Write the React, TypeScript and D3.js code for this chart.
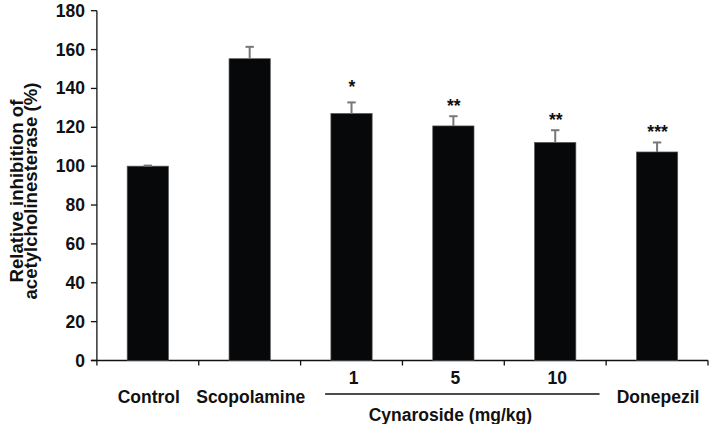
import React from "react";
import * as d3 from "d3";

const categories = ["Control", "Scopolamine", "1", "5", "10", "Donepezil"];
const values = [100, 155.3, 127.1, 120.7, 112.2, 107.3];
const errors = [0.3, 6.1, 5.7, 5, 6.3, 4.9];
const stars = ["", "", "*", "**", "**", "***"];
const yTicks = [0, 20, 40, 60, 80, 100, 120, 140, 160, 180];
const groupLabel = "Cynaroside (mg/kg)";
const doseCats = ["1", "5", "10"];
const yLabelLines = ["Relative inhibition of", "acetylcholinesterase (%)"];

const W = 709;
const H = 424;
const left = 96.9;
const right = 708;
const top = 10.7;
const bottom = 360.5;
const font = "'Liberation Sans', Arial, sans-serif";
const fs = 17.5;
const ink = "#111";

export default function App() {
  const x = d3.scaleBand<string>().domain(categories).range([left, right]).paddingInner(0).paddingOuter(0);
  const y = d3.scaleLinear().domain([0, 180]).range([bottom, top]);
  const bw = x.bandwidth() * 0.405;
  const boundaries = d3.range(categories.length + 1).map((i) => left + i * x.bandwidth());
  const doseStart = x(doseCats[0])!;
  const doseEnd = x(doseCats[doseCats.length - 1])! + x.bandwidth();

  return (
    <svg width={W} height={H} style={{ position: "absolute", left: 0, top: 0, background: "#fff" }}>
      {/* y axis */}
      <line x1={left} x2={left} y1={y(180)} y2={bottom} stroke={ink} strokeWidth={1.3} />
      {yTicks.map((t) => (
        <g key={t}>
          <line x1={left - 6} x2={left} y1={y(t)} y2={y(t)} stroke={ink} strokeWidth={1.3} />
          <text x={85} y={y(t) + 6} textAnchor="end" fontFamily={font} fontWeight="bold" fontSize={fs} fill={ink}>
            {t}
          </text>
        </g>
      ))}
      {/* x axis */}
      <line x1={left - 6} x2={right} y1={bottom} y2={bottom} stroke={ink} strokeWidth={1.3} />
      {boundaries.map((b, i) => (
        <line key={i} x1={b} x2={b} y1={bottom} y2={bottom + 5} stroke={ink} strokeWidth={1.3} />
      ))}
      {/* bars */}
      {categories.map((c, i) => {
        const cx = x(c)! + x.bandwidth() / 2;
        const eTop = y(values[i] + errors[i]);
        return (
          <g key={c}>
            <rect x={cx - bw / 2} y={y(values[i])} width={bw} height={bottom - y(values[i])} fill="#070809" stroke="#555" strokeWidth={0.7} />
            <line x1={cx} x2={cx} y1={y(values[i])} y2={eTop} stroke="#777" strokeWidth={2} />
            <line x1={cx - 4.2} x2={cx + 4.2} y1={eTop} y2={eTop} stroke="#777" strokeWidth={2} />
            {stars[i] && (
              <text x={cx + 0.5} y={eTop - (stars[i].length === 1 ? 9.3 : 4.2)} textAnchor="middle" fontFamily={font} fontWeight="bold" fontSize={fs} fill={ink}>
                {stars[i]}
              </text>
            )}
          </g>
        );
      })}
      {/* x labels */}
      {categories.map((c) => {
        const cx = x(c)! + x.bandwidth() / 2;
        const isDose = doseCats.includes(c);
        return (
          <text key={c} x={cx + (isDose ? 2 : 1)} y={isDose ? 384 : 402.5} textAnchor="middle" fontFamily={font} fontWeight="bold" fontSize={fs} fill={ink}>
            {c}
          </text>
        );
      })}
      <line x1={doseStart + 24.5} x2={doseEnd - 6.6} y1={394} y2={394} stroke={ink} strokeWidth={1.3} />
      <text x={(doseStart + doseEnd) / 2 - 3} y={420.5} textAnchor="middle" fontFamily={font} fontWeight="bold" fontSize={fs} fill={ink}>
        {groupLabel}
      </text>
      {/* y label */}
      <g transform={`translate(22.7, 191) rotate(-90)`}>
        {yLabelLines.map((l, i) => (
          <text key={l} x={0} y={i * 14} textAnchor="middle" fontFamily={font} fontWeight="bold" fontSize={18.6} fill={ink}>
            {l}
          </text>
        ))}
      </g>
    </svg>
  );
}
